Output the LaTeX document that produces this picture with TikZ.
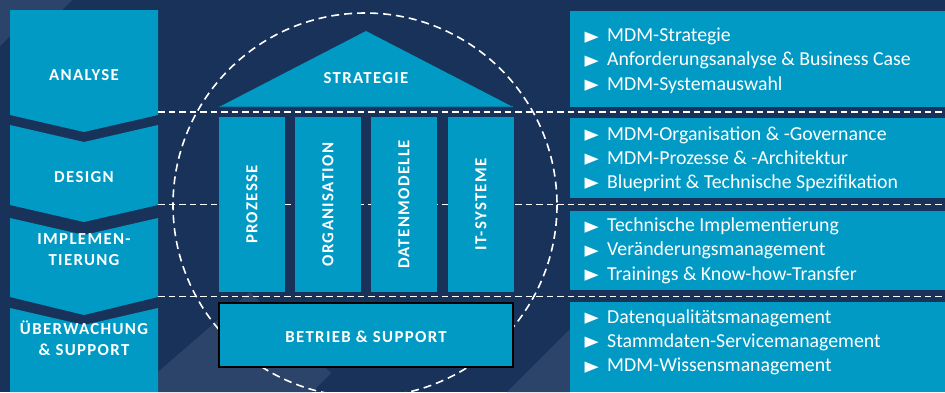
\documentclass[tikz,border=0pt]{standalone}
\usepackage{fontspec}
\setmainfont{Carlito}
\newfontfamily\capsfont{Carlito}[LetterSpace=8]
\newfontfamily\symfont{DejaVu Sans}
\definecolor{navy}{HTML}{19325A}
\definecolor{navylight}{HTML}{2C4469}
\definecolor{cyanbox}{HTML}{009AC5}
\definecolor{cyandark}{HTML}{0A7FAA}
\begin{document}
\begin{tikzpicture}[x=1pt,y=-1pt,
  captxt/.style={text=white, inner sep=0, anchor=base, align=center,
    font=\capsfont\bfseries\fontsize{16.8}{20.6}\selectfont},
  pillar/.style={fill=cyanbox, rotate=90, minimum width=175, minimum height=66,
    inner sep=0, text=white, font=\capsfont\bfseries\fontsize{16.8}{19}\selectfont},
  itemtxt/.style={text=white, anchor=base west, inner sep=0,
    font=\fontsize{19.8}{24}\selectfont},
  bul/.style={text=white, anchor=base west, inner sep=0,
    font=\symfont\fontsize{18.5}{20}\selectfont},
  dline/.style={white, line width=1.8, dash pattern=on 6.5 off 4},
  dcirc/.style={white, line width=1.6, dash pattern=on 8 off 5}]
\useasboundingbox (0,0) rectangle (945,392);
% background
\fill[navy] (0,0) rectangle (945,392);
\fill[navylight] (0,0) -- (72,0) -- (62,10) -- (10,36) -- (0,46) -- cycle;
\fill[navylight] (158,372) -- (250,292) -- (331,373) -- (312,392) -- (158,392) -- cycle;
\fill[navylight] (507,392) -- (570,329) -- (570,392) -- cycle;
% dashed circle and lines (behind boxes)
\draw[dcirc] (365,205) circle[radius=192];
\coordinate (l1a) at (158,112); \coordinate (l1b) at (945,112);
\coordinate (l2a) at (158,204.5); \coordinate (l2b) at (945,204.5);
\coordinate (l3a) at (158,296.5); \coordinate (l3b) at (945,296.5);
\draw[dline] (l1a) -- (l1b);
\draw[dline] (l2a) -- (l2b);
\draw[dline] (l3a) -- (l3b);
% left chevron column
\fill[cyanbox] (10,10) -- (158,10) -- (158,115) -- (84,132) -- (10,115) -- cycle;
\fill[cyanbox] (10,125) -- (84,142) -- (158,125) -- (158,205) -- (84,222) -- (10,205) -- cycle;
\fill[cyanbox] (10,218) -- (84,235) -- (158,218) -- (158,297) -- (84,315) -- (10,297) -- cycle;
\fill[cyanbox] (10,308) -- (84,325) -- (158,308) -- (158,392) -- (10,392) -- cycle;
\node[captxt] (tana) at (84,80) {ANALYSE};
\node[captxt] (tdes) at (84,182.3) {DESIGN};
\node[captxt] (timp) at (84,265) {IMPLEMEN-\\TIERUNG};
\node[captxt] (tueb) at (84,355.5) {ÜBERWACHUNG\\\& SUPPORT};
% house
\fill[cyanbox] (366,31) -- (513,107) -- (219,107) -- cycle;
\draw[cyandark, line width=1] (219.5,106.5) -- (512.5,106.5);
\node[captxt] (tstr) at (366,83.3) {STRATEGIE};
\node[pillar] (p1) at (252,204.5) {PROZESSE};
\node[pillar] (p2) at (328,204.5) {ORGANISATION};
\node[pillar] (p3) at (404,204.5) {DATENMODELLE};
\node[pillar] (p4) at (481,204.5) {IT-SYSTEME};
\node[fill=cyanbox, draw=black, line width=1.3, minimum width=294, minimum height=64,
  inner sep=0] (bs) at (366,335) {};
\node[captxt] (tbs) at (366,342.7) {BETRIEB \& SUPPORT};
% right boxes
\fill[cyanbox] (570,11) rectangle (945,107);
\fill[cyanbox] (570,118) rectangle (945,198);
\fill[cyanbox] (570,211) rectangle (945,290);
\fill[cyanbox] (570,302) rectangle (945,392);
% items
\foreach \y/\t [count=\i] in {41.7/MDM-Strategie,
  65.7/Anforderungsanalyse \& Business Case,
  90/MDM-Systemauswahl,
  140/MDM-Organisation \& -Governance,
  164/MDM-Prozesse \& -Architektur,
  188/Blueprint \& Technische Spezifikation,
  231.7/Technische Implementierung,
  255.7/Veränderungsmanagement,
  280/Trainings \& Know-how-Transfer,
  323.3/Datenqualitätsmanagement,
  347.3/Stammdaten-Servicemanagement,
  371.7/MDM-Wissensmanagement}{
  \node[bul] (b\i) at (584.5,\y-0.5) {\scalebox{1}[0.8]{▶}};
  \node[itemtxt] (it\i) at (607,\y) {\t};
}
\end{tikzpicture}
\end{document}
